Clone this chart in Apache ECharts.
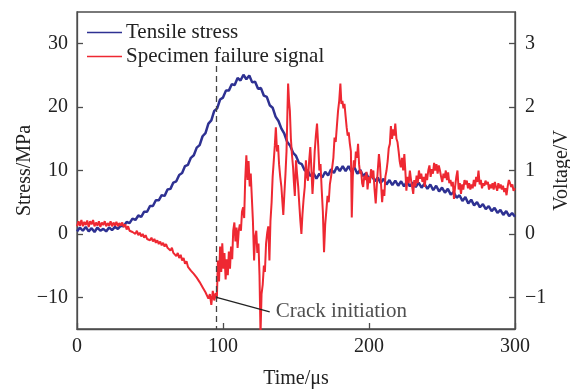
<!DOCTYPE html>
<html><head><meta charset="utf-8">
<script src="https://cdn.jsdelivr.net/npm/echarts@6/dist/echarts.min.js"></script>
<style>html,body{margin:0;padding:0;background:#fff;overflow:hidden;width:570px;height:389px}#c{position:absolute;left:0;top:0;width:570px;height:389px}</style>
</head><body><div id="c"></div>
<script>
// ---- data ----
const seriesNames = ['Tensile stress', 'Specimen failure signal'];
const xTicks = [0, 100, 200, 300];
const stressTicks = [-10, 0, 10, 20, 30];
const voltTicks = [-1, 0, 1, 2, 3];
const stressStep = 2; // µs between stress samples
const stressValues = [
0.4,1.0,0.5,1.1,0.4,0.9,0.3,1.0,0.5,0.8,0.4,1.0,0.6,1.1,0.8,1.3,1.2,1.9,1.7,2.4,
2.2,2.9,2.7,3.5,3.5,4.4,4.4,5.3,5.3,6.1,6.0,7.0,7.1,8.1,8.3,9.3,9.6,10.7,10.9,12.0,
12.4,13.6,14.0,15.4,15.9,17.4,17.9,19.4,19.8,21.2,21.5,22.6,22.6,23.6,23.5,24.6,24.2,25.1,24.4,25.0,
23.9,24.0,22.9,23.0,21.8,21.6,20.3,19.9,18.5,17.8,16.6,15.8,14.5,13.9,12.8,12.3,11.2,11.0,10.0,10.0,
9.1,9.6,8.7,9.5,8.9,9.8,9.2,10.2,9.6,10.6,9.9,10.7,9.9,10.7,9.8,10.5,9.5,10.1,9.1,9.6,
8.7,9.2,8.3,8.9,8.0,8.7,7.8,8.5,7.7,8.4,7.6,8.3,7.5,8.3,7.5,8.1,7.4,8.1,7.3,7.9,
7.1,7.8,6.9,7.6,6.7,7.3,6.5,7.1,6.2,6.6,5.7,6.1,5.2,5.8,4.8,5.4,4.5,5.0,4.2,4.7,
3.9,4.4,3.6,4.1,3.3,3.8,3.0,3.6,2.8,3.3,2.7
];
const signal = [
[0,0.12],[1,0.2],[2,0.13],[3,0.22],[4,0.12],[5,0.19],[6,0.14],[7,0.21],[8,0.11],[9,0.2],
[10,0.15],[11,0.22],[12,0.12],[13,0.18],[14,0.13],[15,0.2],[16,0.11],[17,0.18],[18,0.14],[19,0.2],
[20,0.12],[21,0.17],[22,0.13],[23,0.2],[24,0.12],[25,0.18],[26,0.13],[27,0.19],[28,0.12],[29,0.17],
[30,0.13],[31,0.18],[32,0.11],[33,0.15],[34,0.07],[35,0.12],[36,0.05],[37,0.08],[38,0.03],[39,0.06],
[40,0.0],[41,0.05],[42,-0.02],[43,0.02],[44,-0.04],[45,0.0],[46,-0.06],[47,-0.02],[48,-0.08],[49,-0.05],
[50,-0.1],[51,-0.06],[52,-0.12],[53,-0.08],[54,-0.14],[55,-0.1],[56,-0.16],[57,-0.12],[58,-0.18],[59,-0.14],
[60,-0.2],[61,-0.16],[62,-0.22],[63,-0.19],[64,-0.26],[65,-0.22],[66,-0.3],[67,-0.27],[68,-0.35],[69,-0.3],
[70,-0.38],[71,-0.33],[72,-0.42],[73,-0.38],[74,-0.47],[75,-0.43],[76,-0.52],[77,-0.49],[78,-0.58],[79,-0.55],
[80,-0.63],[81,-0.6],[82,-0.69],[83,-0.66],[84,-0.76],[85,-0.73],[86,-0.84],[87,-0.82],[88,-0.92],[89,-0.9],
[90,-1.02],[91,-0.95],[92,-1.12],[93,-0.9],[94,-1.05],[95,-0.93],[95.8,-1.02],
[96.5,-0.42],[97.3,-0.75],[98,-0.2],[98.8,-0.6],[99.5,-0.15],[100.3,-0.55],[101,-0.3],[101.8,-0.72],[102.5,-0.4],[103.3,-0.65],
[104,-0.28],[104.8,-0.55],[105.5,-0.2],[106.3,-0.4],[107,0.05],[107.8,0.18],[108.5,-0.12],[109.3,0.1],[110,-0.22],[110.8,0.05],
[111.5,0.15],[112.3,0.05],[113,0.35],[113.8,0.42],[114.5,0.25],[115.2,0.85],[116,1.24],[116.8,0.85],[117.5,1.15],[118.3,0.75],
[119,0.95],[119.8,0.55],[120.5,0.2],[121.3,-0.42],[122,-0.05],[122.8,0.05],[123.5,-0.3],[124.3,-0.15],[125,-0.65],[125.7,-1.58],
[126.4,-0.95],[127.2,-0.8],[128,-0.5],[128.7,-0.6],[129.5,-0.15],[130.3,0.02],[131,0.12],[131.8,-0.42],[132.5,0.2],[133.3,0.5],
[134,0.9],[134.8,1.16],[135.5,1.4],[136.2,1.68],[137,1.3],[137.7,1.4],[138.4,1.1],[139.2,0.9],[140,0.74],[140.7,0.5],
[141.3,0.3],[142,0.62],[142.8,0.95],[143.5,1.3],[144.1,1.9],[144.6,2.37],[145.2,2.1],[145.8,1.94],[146.5,1.5],[147.2,1.26],
[148,1.05],[148.6,0.8],[149.2,0.6],[150,1.16],[150.7,0.95],[151.5,0.75],[152.3,0.45],[153,0.2],[153.7,0.0],[154.4,0.3],
[155.2,0.55],[156,0.74],[156.8,1.16],[157.5,0.9],[158.2,0.84],[159,1.15],[159.8,1.37],[160.5,1.05],[161.3,0.63],[162,0.9],
[162.8,1.3],[163.6,1.55],[164.4,1.74],[165.2,1.4],[166,1.0],[166.8,1.1],[167.6,0.7],[168.4,0.35],[169.2,-0.29],[170,0.15],
[170.8,0.37],[171.6,0.6],[172.4,0.5],[173.2,0.78],[174,0.9],[174.8,1.05],[175.6,1.2],[176.4,1.52],[177.2,1.45],[178,1.7],
[178.8,1.94],[179.6,2.1],[180.4,2.37],[181.1,2.05],[181.8,2.1],[182.5,1.98],[183.2,2.05],[184,1.85],[184.7,1.68],[185.4,1.55],
[186.1,1.6],[186.9,1.42],[187.6,1.3],[188.2,0.26],[188.9,0.9],[189.6,1.16],[190.3,1.05],[191,1.3],[191.8,1.2],[192.5,1.42],
[193.2,1.1],[193.9,0.95],[194.6,1.0],[195.3,0.8],[196,0.74],[196.8,0.92],[197.6,0.85],[198.3,0.98],[199,0.7],[199.8,0.9],
[200.6,0.8],[201.4,1.02],[202.2,0.88],[203,1.0],[203.8,0.7],[204.6,0.48],[205.3,0.75],[206,1.0],[206.8,1.26],[207.5,1.1],
[208.2,0.8],[209,0.5],[209.7,0.7],[210.5,0.6],[211.2,0.9],[212,1.0],[212.8,1.15],[213.5,1.35],[214.3,1.42],[215,1.7],
[215.8,1.5],[216.5,1.65],[217.3,1.55],[218,1.74],[218.8,1.5],[219.5,1.45],[220.3,1.3],[221,1.15],[221.8,1.05],[222.6,1.2],
[223.4,1.0],[224.2,1.26],[225,0.95],[225.6,0.68],[226.4,0.9],[227.2,0.8],[228,1.0],[228.8,0.85],[229.5,0.75],[230.3,0.63],
[231,0.85],[231.8,0.75],[232.6,0.92],[233.4,0.8],[234.2,1.0],[235,0.87],[235.8,0.95],[236.6,0.82],[237.4,0.9],[238.2,0.74],
[239,0.95],[239.8,0.85],[240.6,1.0],[241.4,1.08],[242.2,0.9],[243,1.02],[243.8,0.95],[244.6,1.12],[245.4,1.0],[246.2,1.1],
[247,0.95],[247.8,1.08],[248.6,1.0],[249.4,0.9],[250.2,0.82],[251,0.95],[251.8,0.88],[252.6,1.0],[253.4,0.85],[254.2,0.97],
[255,0.8],[255.8,0.85],[256.6,0.75],[257.4,0.82],[258.2,0.55],[259,0.75],[259.8,0.9],[260.6,1.0],[261.4,0.7],[262.2,0.8],
[263,0.63],[263.8,0.78],[264.6,0.7],[265.4,0.85],[266.2,0.78],[267,0.84],[267.8,0.72],[268.6,0.8],[269.4,0.7],[270.2,0.78],
[271,0.72],[271.8,0.85],[272.6,0.75],[273.4,0.9],[274.2,0.82],[275,1.0],[275.8,0.78],[276.6,0.85],[277.4,0.72],[278.2,0.8],
[279,0.76],[279.8,0.84],[280.6,0.78],[281.4,0.82],[282.2,0.7],[283,0.78],[283.8,0.72],[284.6,0.8],[285.4,0.7],[286.2,0.82],
[287,0.74],[287.8,0.68],[288.6,0.8],[289.4,0.72],[290.2,0.78],[291,0.7],[291.8,0.76],[292.6,0.66],[293.4,0.72],[294.2,0.61],
[295,0.75],[295.8,0.85],[296.6,0.8],[297.4,0.74],[298.2,0.78],[299,0.68],[300,0.72]
];
const crackTime = 95.6;           // µs
const crackVoltage = -1.0;        // V
const annotationEnd = [132, -1.23];
const annotationText = 'Crack initiation';
const dashTop = 26.5;             // MPa

// ---- chart ----
const FONT = '"Liberation Serif", "DejaVu Serif", serif';
const AX = '#4d4d4d';
const TXT = '#222';
const BLUE = '#2e3192';
const RED = '#ee2832';
const minus = v => String(v).replace('-', '\u2212');
const stressData = stressValues.map((v, i) => [i * stressStep, v]);

const chart = echarts.init(document.getElementById('c'), null, {renderer: 'canvas', width: 570, height: 389});
chart.setOption({
  animation: false,
  backgroundColor: '#fff',
  grid: {left: 77, right: 55, top: 12, bottom: 60, containLabel: false, outerBoundsMode: 'none',
    show: true, borderColor: AX, borderWidth: 1.3, backgroundColor: 'transparent'},
  legend: {
    data: seriesNames, orient: 'vertical', left: 82, top: 17, itemGap: 3,
    icon: 'rect', itemWidth: 35, itemHeight: 1.6,
    textStyle: {fontFamily: FONT, fontSize: 21, color: TXT, padding: [0, 0, 0, -1]}
  },
  xAxis: {
    type: 'value', min: 0, max: 300, interval: 100,
    name: 'Time/\u03bcs', nameLocation: 'middle', nameGap: 40, nameMoveOverlap: false,
    nameTextStyle: {fontFamily: FONT, fontSize: 20, color: TXT},
    axisLine: {show: true, onZero: false, lineStyle: {color: AX, width: 1.3}},
    axisTick: {show: true, inside: true, length: 6, lineStyle: {color: AX, width: 1.3}, customValues: xTicks},
    axisLabel: {fontFamily: FONT, fontSize: 20, color: TXT, margin: 8, customValues: xTicks},
    splitLine: {show: false}
  },
  yAxis: [{
    type: 'value', min: -15, max: 35, position: 'left',
    name: 'Stress/MPa', nameLocation: 'middle', nameGap: 42, nameMoveOverlap: false,
    nameTextStyle: {fontFamily: FONT, fontSize: 20, color: TXT},
    axisLine: {show: true, onZero: false, lineStyle: {color: AX, width: 1.3}},
    axisTick: {show: true, inside: true, length: 6, lineStyle: {color: AX, width: 1.3}, customValues: stressTicks},
    axisLabel: {fontFamily: FONT, fontSize: 20, color: TXT, margin: 9, customValues: stressTicks, formatter: minus},
    splitLine: {show: false}
  }, {
    type: 'value', min: -1.5, max: 3.5, position: 'right',
    name: 'Voltage/V', nameLocation: 'middle', nameGap: 37, nameMoveOverlap: false,
    nameTextStyle: {fontFamily: FONT, fontSize: 20, color: TXT},
    axisLine: {show: true, onZero: false, lineStyle: {color: AX, width: 1.3}},
    axisTick: {show: true, inside: true, length: 6, lineStyle: {color: AX, width: 1.3}, customValues: voltTicks},
    axisLabel: {fontFamily: FONT, fontSize: 20, color: TXT, margin: 10, customValues: voltTicks, formatter: minus},
    splitLine: {show: false}
  }],
  series: [{
    name: seriesNames[0], type: 'line', yAxisIndex: 0, data: stressData,
    symbol: 'none', color: BLUE, lineStyle: {color: BLUE, width: 2.5}, z: 2,
    markLine: {
      silent: true, symbol: ['none', 'none'], label: {show: false},
      lineStyle: {color: '#444', type: [6, 4], width: 1.3},
      data: [[{coord: [crackTime, dashTop]}, {coord: [crackTime, -15]}]]
    }
  }, {
    name: seriesNames[1], type: 'line', yAxisIndex: 1, data: signal,
    symbol: 'none', color: RED, lineStyle: {color: RED, width: 2}, z: 3,
    markLine: {
      silent: true, symbol: ['none', 'none'], label: {show: false},
      lineStyle: {color: TXT, type: 'solid', width: 1.2},
      data: [[{coord: [crackTime, crackVoltage]}, {coord: annotationEnd}]]
    }
  }, {
    name: 'annotation', type: 'scatter', yAxisIndex: 1, data: [annotationEnd],
    symbolSize: 0, silent: true, z: 5,
    label: {show: true, position: 'right', distance: 6, formatter: annotationText,
      fontFamily: FONT, fontSize: 21, color: TXT}
  }]
});
</script>
</body></html>
